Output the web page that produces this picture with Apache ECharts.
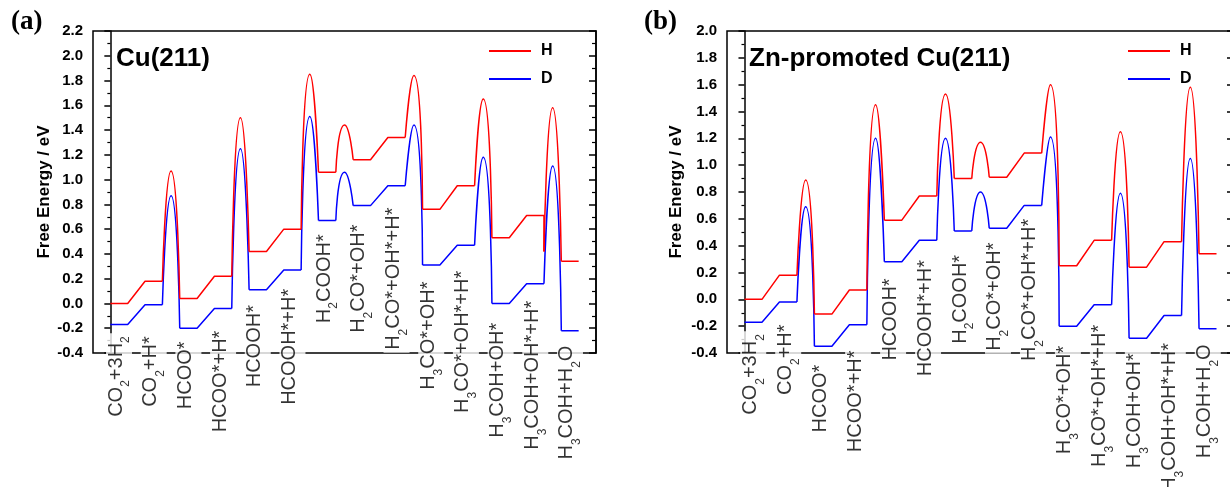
<!DOCTYPE html>
<html><head><meta charset="utf-8">
<script src="https://cdn.jsdelivr.net/npm/echarts@6/dist/echarts.min.js"></script>
<style>html,body{margin:0;padding:0;background:#fff}#c{width:1230px;height:487px}</style>
</head><body><div id="c"></div>
<script>
// ================= DATA =================
const categories = ['CO_2+3H_2','CO_2+H*','HCOO*','HCOO*+H*','HCOOH*','HCOOH*+H*','H_2COOH*',
  'H_2CO*+OH*','H_2CO*+OH*+H*','H_3CO*+OH*','H_3CO*+OH*+H*','H_3COH+OH*','H_3COH+OH*+H*','H_3COH+H_2O'];
// steps (state i -> i+1) that pass through a transition state
const tsSteps = [1, 3, 5, 6, 8, 10, 12];

// (a) Cu(211)
const cuStatesH = [0.00, 0.18, 0.04, 0.22, 0.42, 0.60, 1.06, 1.16, 1.34, 0.76, 0.95, 0.53, 0.71, 0.34];
const cuStatesD = [-0.17, -0.01, -0.20, -0.04, 0.11, 0.27, 0.67, 0.79, 0.95, 0.31, 0.47, 0.00, 0.16, -0.22];
const cuPeaksH  = [1.07, 1.50, 1.85, 1.44, 1.84, 1.65, 1.58];
const cuPeaksD  = [0.87, 1.25, 1.51, 1.06, 1.44, 1.18, 1.11];
const cuPeakStartH = [0.18, 0.22, 0.60, 1.06, 1.34, 0.95, 0.42];

// (b) Zn-promoted Cu(211)
const znStatesH = [0.00, 0.18, -0.11, 0.07, 0.59, 0.77, 0.90, 0.91, 1.09, 0.25, 0.44, 0.24, 0.43, 0.34];
const znStatesD = [-0.17, -0.02, -0.35, -0.19, 0.28, 0.44, 0.51, 0.53, 0.70, -0.20, -0.04, -0.29, -0.12, -0.22];
const znPeaksH  = [0.89, 1.45, 1.53, 1.17, 1.60, 1.25, 1.58];
const znPeaksD  = [0.69, 1.20, 1.20, 0.80, 1.21, 0.79, 1.05];

// ================= LAYOUT =================
// vertical centre of each rotated state label, in eV
const cuLabelCenter = [-0.59, -0.55, -0.58, -0.63, -0.345, -0.35, 0.20, 0.20, 0.20, -0.26, -0.31, -0.62, -0.58, -0.80];
const znLabelCenter = [-0.56, -0.45, -0.74, -0.76, -0.15, -0.14, 0.00, 0.02, 0.07, -0.75, -0.72, -0.83, -0.88, -0.76];

const RED = '#ff0000', BLUE = '#0000ff';
const SANS = 'Liberation Sans, Arial, sans-serif';

function flatPoints(states, peakStart) {
  const pts = [];
  for (let i = 0; i < states.length; i++) {
    pts.push([2 * i, states[i]], [2 * i + 1, states[i]]);
    const k = tsSteps.indexOf(i);
    if (k >= 0) {
      if (peakStart && peakStart[k] !== states[i]) pts.push([2 * i + 1, peakStart[k]]);
      pts.push([2 * i + 1.5, '-']);
    }
  }
  return pts;
}
function peakPoints(states, peaks, peakStart) {
  const pts = [];
  tsSteps.forEach((i, k) => {
    const start = peakStart ? peakStart[k] : states[i];
    pts.push([2 * i + 1, start], [2 * i + 1.5, peaks[k]], [2 * i + 2, states[i + 1]], [2 * i + 2.2, '-']);
  });
  return pts;
}
function richLabel(s) {
  // "_d" -> subscript digit
  let out = '', buf = '';
  for (let j = 0; j < s.length; j++) {
    if (s[j] === '_') {
      if (buf) { out += '{m|' + buf + '}'; buf = ''; }
      out += '{s|' + s[j + 1] + '}'; j++;
    } else buf += s[j];
  }
  if (buf) out += '{m|' + buf + '}';
  return out;
}

function lineSeries(name, color, data, smooth, gi) {
  return {
    type: 'line', name, xAxisIndex: gi, yAxisIndex: gi * 2, data,
    smooth: smooth ? 0.7 : false, symbol: 'none', showSymbol: false, z: 3,
    lineStyle: { color, width: 1.5 }, itemStyle: { color, opacity: 0 }, connectNulls: false,
    animation: false, silent: true
  };
}
function labelSeries(centers, gi) {
  return {
    type: 'scatter', xAxisIndex: gi, yAxisIndex: gi * 2, z: 1, silent: true, clip: false,
    symbolSize: 0.1, itemStyle: { color: 'transparent' },
    data: categories.map((c, i) => [2 * i + 0.5, centers[i]]),
    label: {
      show: true, position: 'inside', rotate: 90, color: '#000',
      backgroundColor: '#fff', padding: [0, 3, 0, 3],
      formatter: p => richLabel(categories[p.dataIndex]),
      rich: {
        m: { fontFamily: SANS, fontSize: 20, lineHeight: 26, verticalAlign: 'top', color: '#000' },
        s: { fontFamily: SANS, fontSize: 12, lineHeight: 12, padding: [14, 0, 0, 0], verticalAlign: 'top', color: '#000' }
      }
    },
    animation: false
  };
}
function yAxes(gi, max, nameGap) {
  const common = {
    type: 'value', gridIndex: gi, min: -0.4, max, interval: 0.2,
    splitLine: { show: false },
    axisLine: { show: true, lineStyle: { color: '#000', width: 1.5 } }
  };
  return [
    Object.assign({}, common, {
      position: 'left',
      axisTick: { show: true, length: 6, lineStyle: { color: '#000', width: 1.5 } },
      minorTick: { show: true, splitNumber: 2, length: 3, lineStyle: { color: '#000', width: 1.2 } },
      axisLabel: { color: '#000', fontFamily: SANS, fontWeight: 'bold', fontSize: 15, margin: 10,
        formatter: v => v.toFixed(1) },
      name: 'Free Energy / eV', nameLocation: 'middle', nameGap,
      nameTextStyle: { color: '#000', fontFamily: SANS, fontWeight: 'bold', fontSize: 17 }
    }),
    Object.assign({}, common, {
      position: 'right',
      axisTick: { show: true, inside: true, length: 7, lineStyle: { color: '#000', width: 1.5 } },
      minorTick: { show: true, splitNumber: 2, length: 4, lineStyle: { color: '#000', width: 1.2 } },
      axisLabel: { show: false }
    })
  ];
}
function xAxis(gi) {
  return { type: 'value', gridIndex: gi, min: -1, max: 28, show: false, splitLine: { show: false } };
}
function legend(left) {
  return {
    data: ['H', 'D'], orient: 'vertical', left, top: 43, itemWidth: 42, itemHeight: 14, itemGap: 12,
    padding: 0, selectedMode: false, itemStyle: { opacity: 0 },
    textStyle: { color: '#000', fontFamily: SANS, fontWeight: 'bold', fontSize: 16, padding: [0, 0, 0, 5] }
  };
}

const chart = echarts.init(document.getElementById('c'), null, { renderer: 'canvas' });
chart.setOption({
  animation: false,
  backgroundColor: '#fff',
  title: [
    { text: '(a)', left: 11, top: 9, padding: 0, textStyle: { fontFamily: 'Liberation Serif, Times New Roman, serif', fontWeight: 'bold', fontSize: 27, color: '#000' } },
    { text: '(b)', left: 644, top: 9, padding: 0, textStyle: { fontFamily: 'Liberation Serif, Times New Roman, serif', fontWeight: 'bold', fontSize: 27, color: '#000' } },
    { text: 'Cu(211)', left: 116, top: 46, padding: 0, textStyle: { fontFamily: SANS, fontWeight: 'bold', fontSize: 26, color: '#000' } },
    { text: 'Zn-promoted Cu(211)', left: 749, top: 46, padding: 0, textStyle: { fontFamily: SANS, fontWeight: 'bold', fontSize: 26, color: '#000' } }
  ],
  legend: [legend(488), legend(1127)],
  grid: [
    { left: 93, top: 31, width: 503, height: 322, show: true, borderColor: '#000', borderWidth: 1.5, backgroundColor: 'transparent', containLabel: false, outerBoundsMode: 'none' },
    { left: 727, top: 31, width: 507, height: 322, show: true, borderColor: '#000', borderWidth: 1.5, backgroundColor: 'transparent', containLabel: false, outerBoundsMode: 'none' }
  ],
  xAxis: [xAxis(0), xAxis(1)],
  yAxis: [...yAxes(0, 2.2, 40), ...yAxes(1, 2.0, 42)],
  series: [
    lineSeries('D', BLUE, flatPoints(cuStatesD), false, 0),
    lineSeries('D', BLUE, peakPoints(cuStatesD, cuPeaksD), true, 0),
    lineSeries('H', RED, flatPoints(cuStatesH, cuPeakStartH), false, 0),
    lineSeries('H', RED, peakPoints(cuStatesH, cuPeaksH, cuPeakStartH), true, 0),
    labelSeries(cuLabelCenter, 0),
    lineSeries('D', BLUE, flatPoints(znStatesD), false, 1),
    lineSeries('D', BLUE, peakPoints(znStatesD, znPeaksD), true, 1),
    lineSeries('H', RED, flatPoints(znStatesH), false, 1),
    lineSeries('H', RED, peakPoints(znStatesH, znPeaksH), true, 1),
    labelSeries(znLabelCenter, 1)
  ]
});
</script></body></html>
